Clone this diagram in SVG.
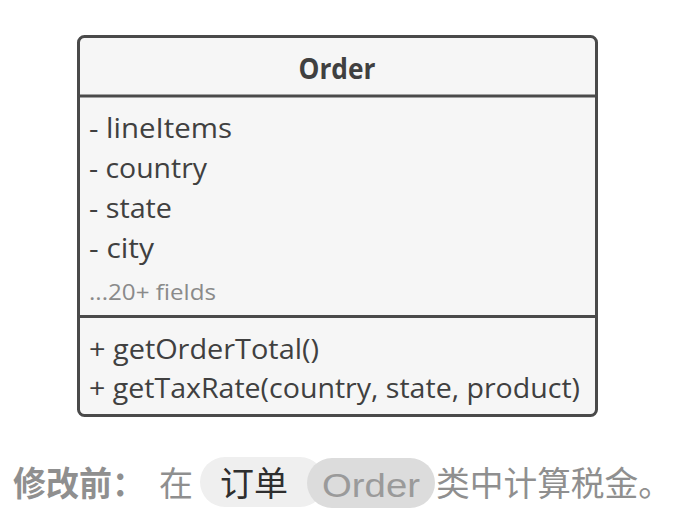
<svg xmlns="http://www.w3.org/2000/svg" width="682" height="530" viewBox="0 0 682 530">
<style>
.box{fill:#f6f6f6;stroke:#4a4a4a;stroke-width:3}
.div{stroke:#4a4a4a;stroke-width:3}
.t{font-family:"Open Sans","Liberation Sans",sans-serif;font-size:28px;fill:#404040}
.h{font-family:"Open Sans","Liberation Sans",sans-serif;font-size:28px;font-weight:bold;fill:#404040}
.g{font-family:"Open Sans","Liberation Sans",sans-serif;font-size:22px;fill:#8a8a8a}
.c{font-family:"Noto Sans CJK SC","Noto Sans",sans-serif;font-size:34px;fill:#8f8f8f}
</style>
<rect width="682" height="530" fill="#ffffff"/>
<g id="order">
<rect class="box" x="78.5" y="36.5" width="518" height="379" rx="6"/>
<line class="div" x1="78.5" y1="96" x2="596.5" y2="96"/>
<line class="div" x1="78.5" y1="316.5" x2="596.5" y2="316.5"/>
<text class="h" x="337" y="79" text-anchor="middle" textLength="77" lengthAdjust="spacingAndGlyphs">Order</text>
<text class="t" x="89" y="138" textLength="143" lengthAdjust="spacingAndGlyphs">- lineItems</text>
<text class="t" x="89" y="178" textLength="118" lengthAdjust="spacingAndGlyphs">- country</text>
<text class="t" x="89" y="218" textLength="83" lengthAdjust="spacingAndGlyphs">- state</text>
<text class="t" x="89" y="258" textLength="65" lengthAdjust="spacingAndGlyphs">- city</text>
<text class="g" x="89" y="300" textLength="127" lengthAdjust="spacingAndGlyphs">...20+ fields</text>
<text class="t" x="89" y="359" textLength="230" lengthAdjust="spacingAndGlyphs">+ getOrderTotal()</text>
<text class="t" x="89" y="398" textLength="491" lengthAdjust="spacingAndGlyphs">+ getTaxRate(country, state, product)</text>
</g>
<g id="caption">
<rect x="200" y="457" width="125" height="50" rx="25" fill="#efefef"/>
<rect x="307" y="458" width="128" height="50" rx="25" fill="#dcdcdc"/>
<text class="c" x="13" y="496" font-weight="bold" textLength="132" lengthAdjust="spacingAndGlyphs">修改前：</text>
<text class="c" x="159" y="496">在</text>
<text class="c" x="220" y="496" style="fill:#2e2e2e">订单</text>
<text x="322" y="497" font-family="'Liberation Sans',sans-serif" font-size="34" fill="#9a9a9a" textLength="98" lengthAdjust="spacingAndGlyphs">Order</text>
<text class="c" x="436" y="496" textLength="236" lengthAdjust="spacingAndGlyphs">类中计算税金。</text>
</g>
</svg>
